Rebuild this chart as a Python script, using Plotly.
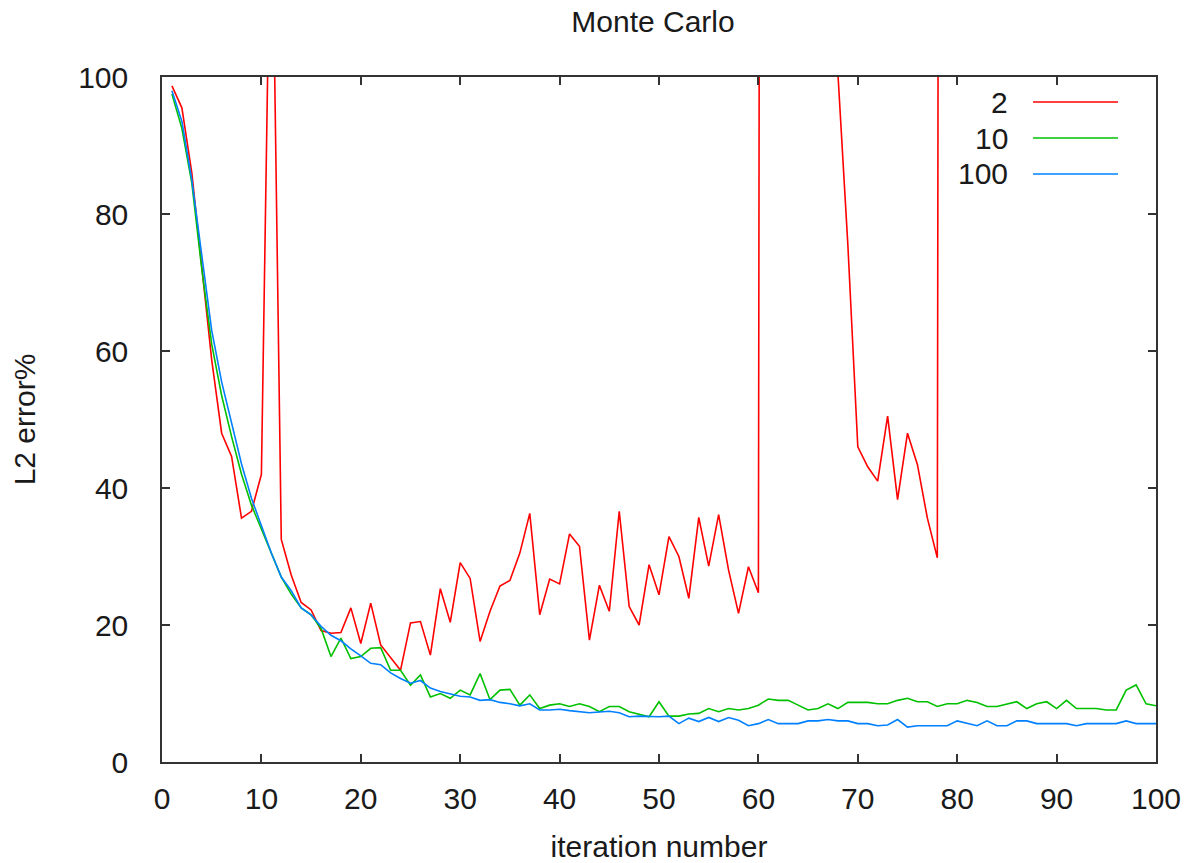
import plotly.graph_objects as go

iterations = list(range(1, 101))

# series "2" (values above 100 are off the chart; estimated)
err_2 = [98.7, 95.5, 86, 72, 58.7, 48, 44.6, 35.6, 36.6, 42,
         135, 32.5, 27.3, 23.3, 22.2, 19.2, 18.8, 18.9, 22.5, 17.3,
         23.2, 17.1, 15.3, 13.4, 20.3, 20.5, 15.6, 25.3, 20.4, 29.1,
         26.8, 17.6, 22.0, 25.7, 26.5, 30.5, 36.3, 21.5, 26.7, 26.0,
         33.3, 31.5, 17.8, 25.8, 22.0, 36.6, 22.7, 20.0, 28.8, 24.4,
         32.9, 30.0, 23.9, 35.7, 28.6, 36.1, 28.0, 21.7, 28.5, 24.7,
         1000, 1000, 1000, 1000, 1000, 1000, 1000,
         100.5, 75.5, 46, 43.1, 41, 50.5, 38.3, 48, 43.4, 35.6, 29.8,
         1000, 1000, 1000, 1000, 1000, 1000, 1000, 1000, 1000, 1000, 1000,
         1000, 1000, 1000, 1000, 1000, 1000, 1000, 1000, 1000, 1000, 1000]

err_10 = [97.5, 92.5, 84.5, 72, 61, 53.5, 47.5, 42, 37.5, 34,
          30.5, 27, 24.5, 22.5, 21.5, 19.5, 15.4, 18.1, 15.1, 15.4,
          16.6, 16.7, 13.4, 13.4, 11.2, 12.7, 9.5, 10.0, 9.3, 10.5,
          9.8, 12.9, 9.1, 10.5, 10.6, 8.3, 9.8, 7.8, 8.3, 8.5,
          8.1, 8.5, 8.1, 7.35, 8.1, 8.1, 7.35, 7.0, 6.6, 8.8,
          6.7, 6.7, 7.0, 7.1, 7.8, 7.35, 7.8, 7.6, 7.8, 8.3,
          9.2, 9.0, 9.0, 8.3, 7.6, 7.8, 8.5, 7.8, 8.7, 8.7,
          8.7, 8.5, 8.5, 9.0, 9.3, 8.8, 8.8, 8.1, 8.5, 8.5,
          9.0, 8.7, 8.1, 8.1, 8.5, 8.8, 7.8, 8.5, 8.8, 7.8,
          9.0, 7.8, 7.8, 7.8, 7.6, 7.6, 10.5, 11.25, 8.5, 8.2]

err_100 = [98, 93.5, 85, 74, 63, 55.5, 49.5, 43.5, 38.5, 34.5,
           30.5, 27, 25, 22.5, 21.5, 19.8, 18.5, 17.7, 16.5, 15.5,
           14.4, 14.2, 13.0, 12.2, 11.5, 11.9, 10.8, 10.3, 10.0, 9.6,
           9.5, 9.0, 9.1, 8.7, 8.5, 8.2, 8.5, 7.6, 7.6, 7.7,
           7.5, 7.4, 7.2, 7.3, 7.4, 7.2, 6.6, 6.7, 6.6, 6.6,
           6.7, 5.6, 6.4, 5.9, 6.5, 5.9, 6.5, 6.1, 5.3, 5.6,
           6.2, 5.6, 5.6, 5.6, 6.0, 6.0, 6.2, 6.0, 6.0, 5.6,
           5.6, 5.3, 5.4, 6.2, 5.1, 5.3, 5.3, 5.3, 5.3, 6.0,
           5.6, 5.3, 6.0, 5.3, 5.3, 6.0, 6.0, 5.6, 5.6, 5.6,
           5.6, 5.3, 5.6, 5.6, 5.6, 5.6, 6.0, 5.6, 5.6, 5.6]

series_names = ["2", "10", "100"]
series_values = [err_2, err_10, err_100]
series_colors = ["#ff0000", "#00c000", "#0080ff"]

x_ticks = [0, 10, 20, 30, 40, 50, 60, 70, 80, 90, 100]
y_ticks = [0, 20, 40, 60, 80, 100]

FONT = "Liberation Sans, Arial, sans-serif"
TXT = "#1a1a1a"
FS = 30
W, H = 1189, 863

fig = go.Figure()
for name, vals, col in zip(series_names, series_values, series_colors):
    fig.add_trace(go.Scatter(x=iterations, y=vals, mode="lines", name=name,
                             line=dict(color=col, width=1.6), showlegend=False))

# manual gnuplot-style legend (text right-aligned, sample line to the right)
row_y = [0.9635, 0.9109, 0.8584]
for name, col, yy in zip(series_names, series_colors, row_y):
    fig.add_annotation(x=0.8531, y=yy, xref="paper", yref="paper", text=name,
                       showarrow=False, xanchor="right", yanchor="middle",
                       font=dict(family=FONT, size=FS, color=TXT))
    fig.add_shape(type="line", xref="paper", yref="paper", x0=0.8763, x1=0.9618,
                  y0=yy, y1=yy, line=dict(color=col, width=1.6))

axis_common = dict(showgrid=False, zeroline=False, showline=True, linecolor="#333333",
                   linewidth=1.5, mirror="ticks", ticks="inside", ticklen=8,
                   tickwidth=1.5, tickcolor="#333333", automargin=False,
                   ticklabeloverflow="allow",
                   tickfont=dict(family=FONT, size=FS, color=TXT))

fig.update_layout(
    width=W, height=H,
    margin=dict(l=162, r=33, t=77, b=101),
    paper_bgcolor="white", plot_bgcolor="white",
    title=dict(text="Monte Carlo", x=653 / W, xref="container", xanchor="center",
               y=1 - 21 / H, yref="container", yanchor="middle",
               font=dict(family=FONT, size=FS, color=TXT)),
    xaxis=dict(range=[0, 100], tickvals=x_ticks, ticklabelstandoff=9,
               title=dict(text="iteration number", standoff=39,
                          font=dict(family=FONT, size=FS, color=TXT)),
               **axis_common),
    yaxis=dict(range=[0, 100], tickvals=y_ticks, ticklabelstandoff=26,
               title=dict(text="L2 error%", standoff=34,
                          font=dict(family=FONT, size=FS, color=TXT)),
               **axis_common),
)

fig.write_html("out.html", config={"displayModeBar": False},
               post_script="document.body.style.margin='0';document.body.style.overflow='hidden';")
